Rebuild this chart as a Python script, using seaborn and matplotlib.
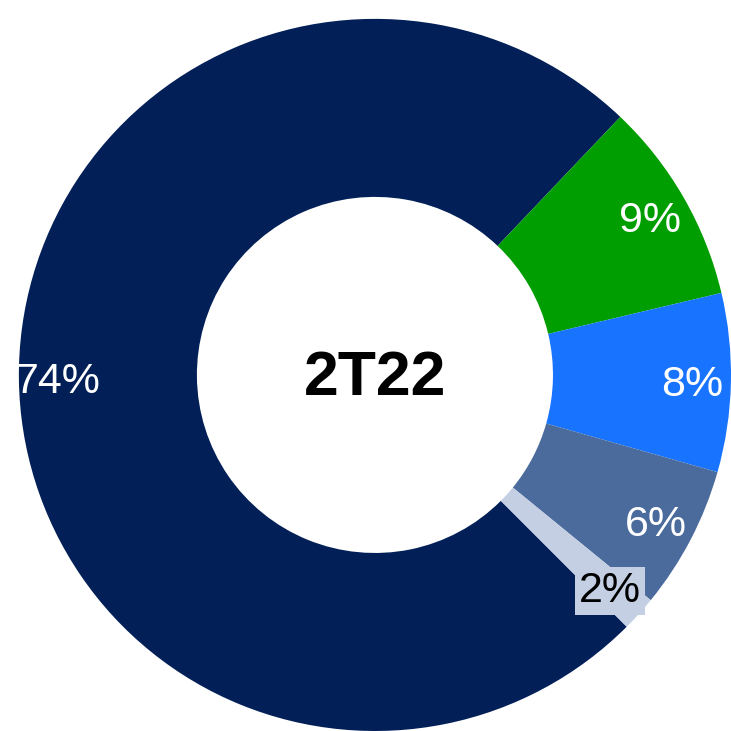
import numpy as np
import matplotlib
matplotlib.use("Agg")
import matplotlib.pyplot as plt
import seaborn as sns

sns.set_theme(style="white")
plt.rcParams['font.family'] = ['Liberation Sans', 'DejaVu Sans']

# slice data (clockwise from the bottom-right)
segments = ["Navy", "Green", "Blue", "Slate", "Light"]
shares = [74.6, 9.2, 8.1, 6.5, 1.6]
labels = ["74%", "9%", "8%", "6%", "2%"]
colors = ["#021f58", "#009e00", "#1874ff", "#4a6b9c", "#c4cfe3"]
label_colors = ["white", "white", "white", "white", "black"]
center_text = "2T22"

fig = plt.figure(figsize=(7.31, 7.31), dpi=100)
ax = fig.add_axes([0, 0, 1, 1])

wedges, _ = ax.pie(shares, colors=colors, startangle=-45, counterclock=False,
                   radius=1.0, wedgeprops=dict(width=0.5, linewidth=0))

for w, lab, c in zip(wedges, labels, label_colors):
    mid = np.deg2rad((w.theta1 + w.theta2) / 2)
    r = 0.89
    kw = {}
    if c == "black":
        kw["bbox"] = dict(boxstyle="square,pad=0.1", fc="#c4cfe3", ec="none")
    ax.text(r * np.cos(mid), r * np.sin(mid) - 0.01, lab, ha="center", va="center",
            color=c, fontsize=31, **kw)

ax.text(0, -0.01, center_text, ha="center", va="center", fontsize=45,
        fontweight="bold", color="black")

ax.set_xlim(-1.053, 1.0)
ax.set_ylim(-1.0, 1.053)
ax.set_aspect("equal")
ax.axis("off")

fig.savefig("out.png", dpi=100)
